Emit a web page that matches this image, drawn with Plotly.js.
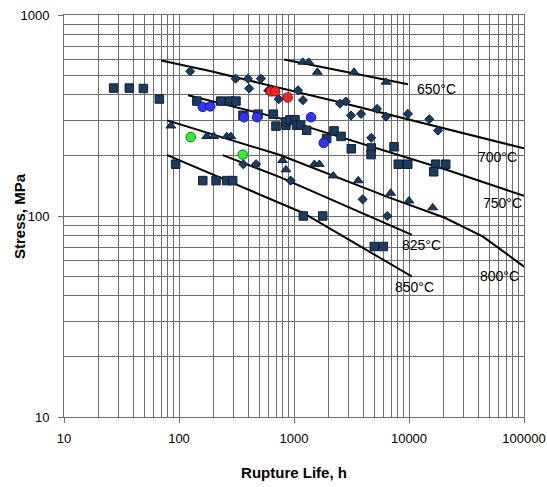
<!DOCTYPE html>
<html><head><meta charset="utf-8">
<script src="https://cdn.plot.ly/plotly-3.0.1.min.js"></script>
<style>html,body{margin:0;padding:0;background:#fff}</style>
</head><body><div id="chart" style="width:547px;height:487px"></div>
<script>
// ---- data (rupture life h, stress MPa) ----
const squareLife   = [27, 37, 49, 67.5, 143, 231, 277, 313, 360, 486, 661, 697, 851, 851, 923, 1020, 1054, 1143, 1288, 2228, 2564, 1923, 3148, 4697, 4677, 7413, 8072, 9750, 17060, 20860, 16400, 93.5, 161, 210, 260, 293, 1205, 1778, 4990, 5985];
const squareStress = [433, 433, 431, 382, 373, 373, 373, 373, 317, 321, 321, 280, 283, 294, 301, 301, 283, 283, 267, 265, 249, 243, 216, 218, 202, 221, 181, 181, 181, 181, 166, 181, 150, 150, 150, 150, 100, 100, 70.5, 70.5];

const diamondLife   = [125, 311, 398, 516, 408, 598, 736, 1084, 1197, 2512, 2818, 3134, 3826, 5272, 6310, 9790, 15030, 17870, 4697, 362, 468, 935, 3955, 6471];
const diamondStress = [525, 482, 482, 482, 431, 421, 381, 422, 377, 362, 371, 316, 322, 341, 312, 322, 303, 266, 245, 181, 181, 150, 121, 100];

const triangleLife   = [1191, 1343, 1596, 3327, 6310, 85, 174, 201, 260, 282, 795, 851, 1503, 1660, 2198, 3622, 6934, 10000, 16070];
const triangleStress = [583, 583, 520, 520, 464, 281, 249, 249, 249, 249, 189, 170, 181, 181, 158.5, 150, 130, 119, 110];

const blueLife   = [161, 187, 367, 477, 1406, 1812];
const blueStress = [349, 351, 310, 310, 310, 231];
const redLife    = [631, 684, 881];
const redStress  = [417, 417, 389];
const greenLife  = [126.5, 358];
const greenStress= [247, 202];

// master curves
const curveNames = ['650°C', '700°C', '750°C', '800°C', '825°C', '850°C'];
const c650Life = [820, 9800];              const c650Stress = [600, 452];
const c700Life = [70, 186, 2500, 100000];  const c700Stress = [594, 526, 368, 217];
const c750Life = [120, 755, 21800, 100000];const c750Stress = [399, 306, 169, 126];
const c800Life = [79, 755, 6840, 20500, 44000, 100000]; const c800Stress = [299, 201, 123, 98, 79, 56];
const c825Life = [240, 755, 10600];        const c825Stress = [201, 156, 80.5];
const c850Life = [79, 1200, 10600];        const c850Stress = [201, 103.5, 50];
// label anchor positions (life, stress) for curve names, same order as curveNames
const labelLife   = [17200, 59400, 65600, 61800, 12900, 11270];
const labelStress = [427, 196, 116, 50.4, 71.8, 44.4];

const xTickVals = [10, 100, 1000, 10000, 100000];
const xTickText = ['10', '100', '1000', '10000', '100000'];
const yTickVals = [10, 100, 1000];
const yTickText = ['10', '100', '1000'];
const xTitle = 'Rupture Life, h';
const yTitle = 'Stress, MPa';

// ---- build traces ----
const curveLife = [c650Life, c700Life, c750Life, c800Life, c825Life, c850Life];
const curveStress = [c650Stress, c700Stress, c750Stress, c800Stress, c825Stress, c850Stress];
const navy = '#1d3a5f', navyEdge = '#0e2036';
const traces = [];
curveLife.forEach((xs, i) => traces.push({
  x: xs, y: curveStress[i], mode: 'lines', type: 'scatter', name: curveNames[i],
  line: {color: '#000', width: 2}, hoverinfo: 'skip'
}));
function pts(x, y, symbol, size, color, edge) {
  return {x, y, mode: 'markers', type: 'scatter',
    marker: {symbol, size, color, line: {color: edge, width: 1}}};
}
traces.push(pts(squareLife, squareStress, 'square', 8.5, navy, navyEdge));
traces.push(pts(diamondLife, diamondStress, 'diamond', 7, navy, navyEdge));
traces.push(pts(triangleLife, triangleStress, 'triangle-up', 8.5, navy, navyEdge));
traces.push(pts(blueLife, blueStress, 'circle', 9.5, '#3333ff', '#1a1a80'));
traces.push(pts(redLife, redStress, 'circle', 9.5, '#ff2222', '#801010'));
traces.push(pts(greenLife, greenStress, 'circle', 9.5, '#33ee33', '#1a7a1a'));

const gridC = '#6e6e6e';
const fontFam = 'Liberation Sans, Arial, sans-serif';
const annotations = curveNames.map((t, i) => ({
  x: Math.log10(labelLife[i]), y: Math.log10(labelStress[i]), xref: 'x', yref: 'y',
  text: t, showarrow: false, font: {family: fontFam, size: 14, color: '#000'}
}));
annotations.push({
  xref: 'paper', yref: 'paper', x: -45 / 460, y: 0.5, xanchor: 'center', yanchor: 'middle',
  text: yTitle, textangle: -90, showarrow: false,
  font: {family: fontFam, size: 15, color: '#000', weight: 'bold'}
});

const axisCommon = {
  type: 'log', showline: true, linecolor: gridC, linewidth: 1, mirror: true,
  ticks: 'outside', ticklen: 5, tickcolor: gridC, tickwidth: 1,
  showgrid: true, gridcolor: gridC, gridwidth: 1,
  minor: {dtick: 'D1', showgrid: true, gridcolor: gridC, gridwidth: 1, ticks: ''},
  tickfont: {family: fontFam, size: 13, color: '#000'},
  tickmode: 'array', zeroline: false
};

const layout = {
  width: 547, height: 487, showlegend: false,
  margin: {l: 64, r: 23, t: 15, b: 70},
  paper_bgcolor: '#fff', plot_bgcolor: '#fff',
  xaxis: Object.assign({}, axisCommon, {
    range: [1, 5], tickvals: xTickVals, ticktext: xTickText, ticklabelstandoff: 4,
    title: {text: xTitle, standoff: 22,
      font: {family: fontFam, size: 15, color: '#000', weight: 'bold'}}
  }),
  yaxis: Object.assign({}, axisCommon, {
    range: [1, 3], tickvals: yTickVals, ticktext: yTickText, ticklabelstandoff: 6
  }),
  annotations
};
Plotly.newPlot('chart', traces, layout, {staticPlot: true, displayModeBar: false});
</script>
</body></html>
